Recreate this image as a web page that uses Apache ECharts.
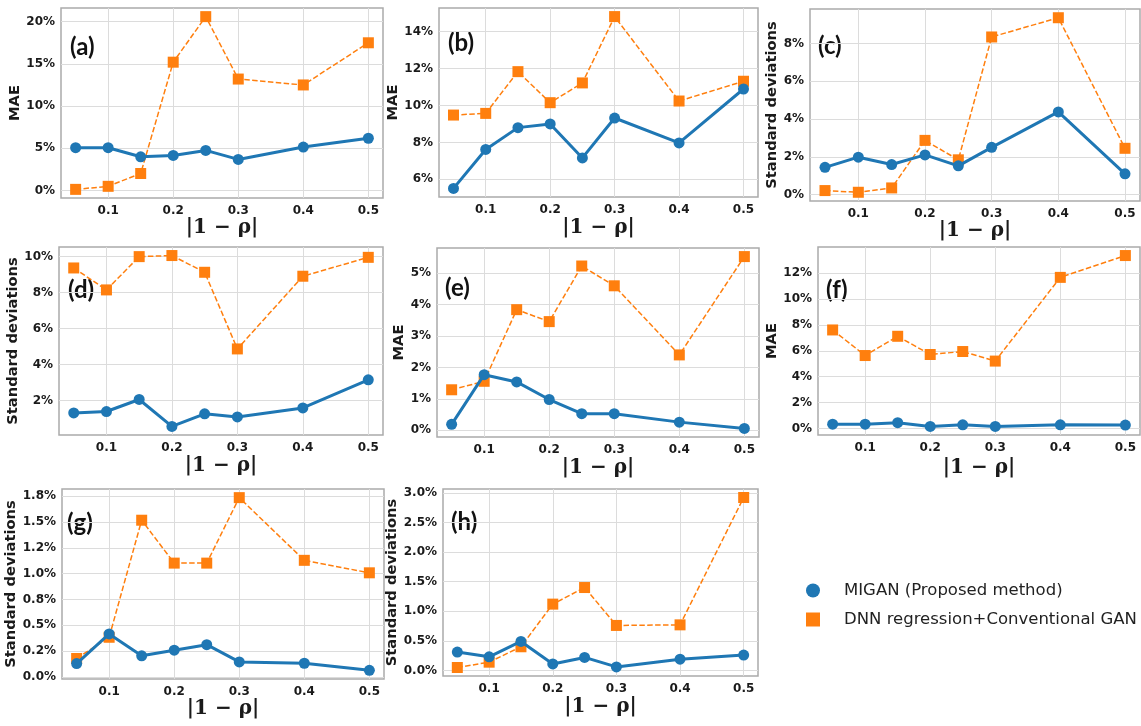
<!DOCTYPE html>
<html><head><meta charset="utf-8">
<script src="https://cdn.jsdelivr.net/npm/echarts@6/dist/echarts.min.js"></script>
<style>html,body{margin:0;padding:0;background:#fff}#c{width:1141px;height:726px}</style>
</head><body><div id="c"></div>
<script>
// ---------- DATA ----------
const xValues = [0.05, 0.1, 0.15, 0.2, 0.25, 0.3, 0.4, 0.5];
const xTicks = [0.1, 0.2, 0.3, 0.4, 0.5];
const xTickLabels = ['0.1', '0.2', '0.3', '0.4', '0.5'];
const seriesNames = ['MIGAN (Proposed method)', 'DNN regression+Conventional GAN'];
const panelLabels = ['(a)', '(b)', '(c)', '(d)', '(e)', '(f)', '(g)', '(h)'];
const yTitles = ['MAE', 'MAE', 'Standard deviations', 'Standard deviations', 'MAE', 'MAE', 'Standard deviations', 'Standard deviations'];
const xTitle = '|1 − ρ|';

// values in percent
const miganA = [5.06, 5.06, 3.98, 4.14, 4.74, 3.67, 5.14, 6.18];
const dnnA   = [0.12, 0.48, 2.0, 15.2, 20.6, 13.2, 12.5, 17.5];
const miganB = [5.51, 7.62, 8.80, 9.0, 7.16, 9.32, 7.97, 10.89];
const dnnB   = [9.48, 9.57, 11.83, 10.15, 11.22, 14.81, 10.24, 11.31];
const miganC = [1.44, 1.98, 1.59, 2.1, 1.52, 2.5, 4.38, 1.10];
const dnnC   = [0.21, 0.12, 0.35, 2.87, 1.84, 8.35, 9.37, 2.45];
const miganD = [1.31, 1.39, 2.06, 0.56, 1.26, 1.09, 1.59, 3.15];
const dnnD   = [9.37, 8.15, 10.0, 10.06, 9.13, 4.87, 8.91, 9.96];
const miganE = [0.19, 1.77, 1.54, 0.98, 0.53, 0.53, 0.26, 0.06];
const dnnE   = [1.29, 1.56, 3.84, 3.46, 5.23, 4.60, 2.40, 5.53];
const miganF = [0.33, 0.33, 0.44, 0.15, 0.28, 0.15, 0.28, 0.26];
const dnnF   = [7.62, 5.64, 7.13, 5.72, 5.95, 5.21, 11.69, 13.38];
const miganG = [0.128, 0.415, 0.203, 0.258, 0.311, 0.144, 0.131, 0.062];
const dnnG   = [0.177, 0.383, 1.518, 1.102, 1.102, 1.737, 1.129, 1.008];
const miganH = [0.31, 0.23, 0.49, 0.11, 0.22, 0.06, 0.19, 0.26];
const dnnH   = [0.05, 0.14, 0.40, 1.12, 1.40, 0.76, 0.77, 2.92];

const yTicksA = [0, 5, 10, 15, 20];            const yLabelsA = ['0%', '5%', '10%', '15%', '20%'];
const yTicksB = [6, 8, 10, 12, 14];            const yLabelsB = ['6%', '8%', '10%', '12%', '14%'];
const yTicksC = [0, 2, 4, 6, 8];               const yLabelsC = ['0%', '2%', '4%', '6%', '8%'];
const yTicksD = [2, 4, 6, 8, 10];              const yLabelsD = ['2%', '4%', '6%', '8%', '10%'];
const yTicksE = [0, 1, 2, 3, 4, 5];            const yLabelsE = ['0%', '1%', '2%', '3%', '4%', '5%'];
const yTicksF = [0, 2, 4, 6, 8, 10, 12];       const yLabelsF = ['0%', '2%', '4%', '6%', '8%', '10%', '12%'];
const yTicksG = [0, 0.25, 0.5, 0.75, 1.0, 1.25, 1.5, 1.75];
const yLabelsG = ['0.0%', '0.2%', '0.5%', '0.8%', '1.0%', '1.2%', '1.5%', '1.8%'];
const yTicksH = [0, 0.5, 1.0, 1.5, 2.0, 2.5, 3.0];
const yLabelsH = ['0.0%', '0.5%', '1.0%', '1.5%', '2.0%', '2.5%', '3.0%'];

const panels = [
  { migan: miganA, dnn: dnnA, ticks: yTicksA, labels: yLabelsA },
  { migan: miganB, dnn: dnnB, ticks: yTicksB, labels: yLabelsB },
  { migan: miganC, dnn: dnnC, ticks: yTicksC, labels: yLabelsC },
  { migan: miganD, dnn: dnnD, ticks: yTicksD, labels: yLabelsD },
  { migan: miganE, dnn: dnnE, ticks: yTicksE, labels: yLabelsE },
  { migan: miganF, dnn: dnnF, ticks: yTicksF, labels: yLabelsF },
  { migan: miganG, dnn: dnnG, ticks: yTicksG, labels: yLabelsG },
  { migan: miganH, dnn: dnnH, ticks: yTicksH, labels: yLabelsH }
];

// ---------- LAYOUT ----------
const boxes = [ // left, top, right, bottom
  [61, 8, 383, 198], [439, 8, 758, 197], [810, 9, 1140, 201],
  [59, 247, 383, 435], [437, 248, 759, 437], [818, 247, 1140, 435],
  [62, 489, 384, 679], [443, 489, 758, 676]
];
const yNameGaps = [31, 31, 24, 33, 23, 32, 37, 36];
const xNameGaps = [17, 21, 17, 21, 21, 23, 20, 21];
const labelOffsets = [[9, 40], [9, 36], [8, 38], [9, 44], [8, 41], [8, 44], [5, 35], [8, 34]];

const BLUE = '#1f77b4', ORANGE = '#ff7f0e';
const tickFont = { fontFamily: 'DejaVu Sans', fontWeight: 'bold', fontSize: 12, color: '#1a1a1a' };

const grid = [], xAxis = [], yAxis = [], series = [], graphic = [];
const xMin = 0.05 - 0.05 * 0.45, xMax = 0.5 + 0.05 * 0.45;

panels.forEach((p, i) => {
  const [l, t, r, b] = boxes[i];
  grid.push({ left: l, top: t, width: r - l, height: b - t, show: true,
    borderColor: '#ababab', borderWidth: 1.5, backgroundColor: '#fff' });
  xAxis.push({
    type: 'value', gridIndex: i, min: xMin, max: xMax,
    axisLine: { show: false }, axisTick: { show: false, customValues: xTicks },
    axisLabel: Object.assign({ customValues: xTicks, margin: 7,
      formatter: v => { const k = xTicks.findIndex(x => Math.abs(x - v) < 1e-9); return k >= 0 ? xTickLabels[k] : ''; } }, tickFont),
    splitLine: { show: true, lineStyle: { color: '#dcdcdc', width: 1 } },
    name: xTitle, nameLocation: 'middle', nameGap: xNameGaps[i],
    nameTextStyle: { fontFamily: 'DejaVu Serif', fontWeight: 'bold', fontSize: 20, color: '#1a1a1a' }
  });
  const all = p.migan.concat(p.dnn);
  const lo = Math.min(...all), hi = Math.max(...all), rg = hi - lo;
  yAxis.push({
    type: 'value', gridIndex: i, min: lo - 0.05 * rg, max: hi + 0.05 * rg,
    axisLine: { show: false }, axisTick: { show: false, customValues: p.ticks },
    axisLabel: Object.assign({ customValues: p.ticks, margin: 6,
      formatter: v => { const k = p.ticks.findIndex(x => Math.abs(x - v) < 1e-9); return k >= 0 ? p.labels[k] : ''; } }, tickFont),
    splitLine: { show: true, lineStyle: { color: '#dcdcdc', width: 1 } },
    name: yTitles[i], nameLocation: 'middle', nameGap: yNameGaps[i],
    nameTextStyle: { fontFamily: 'DejaVu Sans', fontWeight: 'bold', fontSize: 14.7, color: '#1a1a1a' }
  });
  series.push({
    name: seriesNames[1], type: 'line', xAxisIndex: i, yAxisIndex: i,
    data: xValues.map((x, k) => [x, p.dnn[k]]),
    symbol: 'rect', symbolSize: 11, z: 2,
    itemStyle: { color: ORANGE },
    lineStyle: { color: ORANGE, width: 1.5, type: [5.5, 2.4] }
  });
  series.push({
    name: seriesNames[0], type: 'line', xAxisIndex: i, yAxisIndex: i,
    data: xValues.map((x, k) => [x, p.migan[k]]),
    symbol: 'circle', symbolSize: 11, z: 3,
    itemStyle: { color: BLUE, borderWidth: 0 },
    lineStyle: { color: BLUE, width: 3 }
  });
  graphic.push({
    type: 'text', left: l + labelOffsets[i][0], top: t + labelOffsets[i][1] - 13,
    style: { text: panelLabels[i], fontFamily: 'Lato', fontWeight: 'bold', fontSize: 24, fill: '#111' }
  });
});

const chart = echarts.init(document.getElementById('c'), null, { renderer: 'canvas' });
chart.setOption({
  animation: false,
  backgroundColor: '#fff',
  grid, xAxis, yAxis, series, graphic,
  legend: {
    orient: 'vertical', left: 801, top: 577, itemWidth: 14, itemHeight: 14, itemGap: 12,
    data: [{ name: seriesNames[0], icon: 'circle' }, { name: seriesNames[1], icon: 'rect' }],
    textStyle: { fontFamily: 'DejaVu Sans', fontSize: 16.5, color: '#222', padding: [0, 0, 0, 19] }
  }
});
</script></body></html>
